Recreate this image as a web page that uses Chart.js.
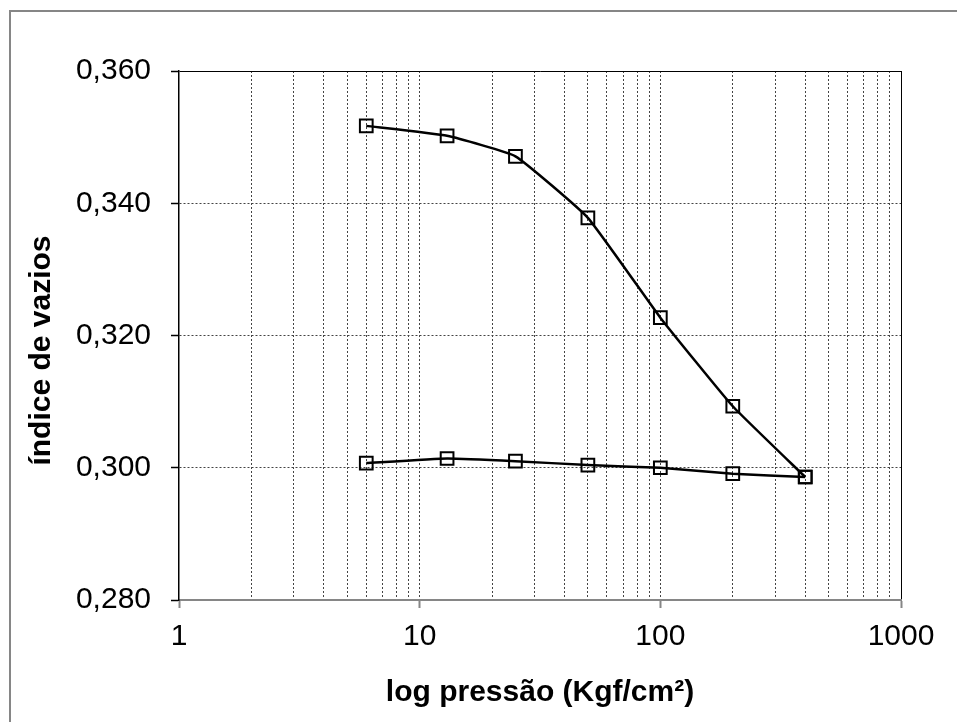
<!DOCTYPE html>
<html>
<head>
<meta charset="utf-8">
<script src="https://cdn.jsdelivr.net/npm/chart.js@4"></script>
<style>
  body { margin: 0; background: #fff; }
  #wrap { position: relative; width: 957px; height: 722px; overflow: hidden; }
  #frame { position: absolute; left: 9px; top: 10px; width: 980px; height: 760px; border: 2px solid #868686; }
  #grafico { position: absolute; left: 0; top: 0; }
</style>
</head>
<body>
<div id="wrap">
  <div id="frame"></div>
  <canvas id="grafico" width="957" height="722"></canvas>
</div>
<script>
// carregamento
const pressoesCarga = [6, 13, 25, 50, 100, 200, 400]
const indiceCarga = [0.3517, 0.3502, 0.3471, 0.3378, 0.3227, 0.3093, 0.2986]
// descarregamento
const pressoesDescarga = [400, 200, 100, 50, 25, 13, 6]
const indiceDescarga = [0.2986, 0.2991, 0.3000, 0.3004, 0.3010, 0.3014, 0.3007]

const yTicks = [0.28, 0.30, 0.32, 0.34, 0.36]
const xMajor = [1, 10, 100, 1000]

function pares(xs, ys) {
  return xs.map((x, i) => ({ x: x, y: ys[i] }))
}

const estiloSerie = {
  borderColor: '#000',
  backgroundColor: 'rgba(0,0,0,0)',
  borderWidth: 2.5,
  pointStyle: 'rect',
  pointRadius: 9,
  pointBorderWidth: 2,
  pointBorderColor: '#000',
  pointBackgroundColor: 'rgba(0,0,0,0)',
  tension: 0.12,
  showLine: true
}

const fonteTick = { family: 'Liberation Sans, Arial, sans-serif', size: 30 }
const fonteTitulo = { family: 'Liberation Sans, Arial, sans-serif', size: 30, weight: 'bold' }

const config = {
  type: 'scatter',
  data: {
    datasets: [
      Object.assign({ label: 'carga', data: pares(pressoesCarga, indiceCarga) }, estiloSerie),
      Object.assign({ label: 'descarga', data: pares(pressoesDescarga, indiceDescarga) }, estiloSerie)
    ]
  },
  options: {
    responsive: false,
    animation: false,
    layout: { padding: { left: 0, top: 71, right: 56, bottom: 0 } },
    plugins: { legend: { display: false }, tooltip: { enabled: false } },
    scales: {
      x: {
        type: 'logarithmic',
        min: 1,
        max: 1000,
        afterBuildTicks: function (scale) {
          let t = []
          for (let d = 1; d < 1000; d = d * 10) {
            for (let k = 1; k <= 9; k++) t.push({ value: k * d })
          }
          t.push({ value: 1000 })
          scale.ticks = t
        },
        afterFit: function (scale) { scale.height = 122 },
        ticks: {
          autoSkip: false,
          maxRotation: 0,
          padding: 11,
          color: '#000',
          font: fonteTick,
          callback: function (value) {
            return xMajor.includes(value) ? String(value) : ''
          }
        },
        grid: {
          lineWidth: 1,
          tickLength: 8,
          tickWidth: 2,
          color: function (ctx) {
            if (!ctx.tick) return '#444'
            if (ctx.tick.value === 1) return 'rgba(0,0,0,0)'
            if (ctx.tick.value === 1000) return '#000'
            return '#444'
          },
          tickColor: function (ctx) {
            return ctx.tick && xMajor.includes(ctx.tick.value) ? '#868686' : 'rgba(0,0,0,0)'
          }
        },
        border: {
          color: '#868686',
          width: 2,
          dash: function (ctx) {
            return ctx.tick && ctx.tick.value === 1000 ? [] : [2, 2]
          }
        },
        title: {
          display: true,
          text: 'log pressão (Kgf/cm²)',
          color: '#000',
          font: fonteTitulo,
          padding: { top: 0, bottom: 11 }
        }
      },
      y: {
        min: 0.28,
        max: 0.36,
        afterBuildTicks: function (scale) {
          scale.ticks = yTicks.map(v => ({ value: v }))
        },
        afterFit: function (scale) { scale.width = 179 },
        ticks: {
          padding: 20,
          color: '#000',
          font: fonteTick,
          callback: function (value) {
            return value.toFixed(3).replace('.', ',')
          }
        },
        grid: {
          lineWidth: 1,
          tickLength: 8,
          tickWidth: 1.5,
          tickColor: '#000',
          color: function (ctx) {
            if (!ctx.tick) return '#444'
            if (Math.abs(ctx.tick.value - 0.28) < 1e-6) return 'rgba(0,0,0,0)'
            if (Math.abs(ctx.tick.value - 0.36) < 1e-6) return '#000'
            return '#444'
          }
        },
        border: {
          color: '#000',
          width: 1.5,
          dash: function (ctx) {
            return ctx.tick && Math.abs(ctx.tick.value - 0.36) < 1e-6 ? [] : [2, 2]
          }
        },
        title: {
          display: true,
          text: 'índice de vazios\u2002\u2002',
          color: '#000',
          font: fonteTitulo,
          padding: { top: 24, bottom: 0 }
        }
      }
    }
  }
}

const grafico = new Chart(document.getElementById('grafico'), config)
</script>
</body>
</html>
